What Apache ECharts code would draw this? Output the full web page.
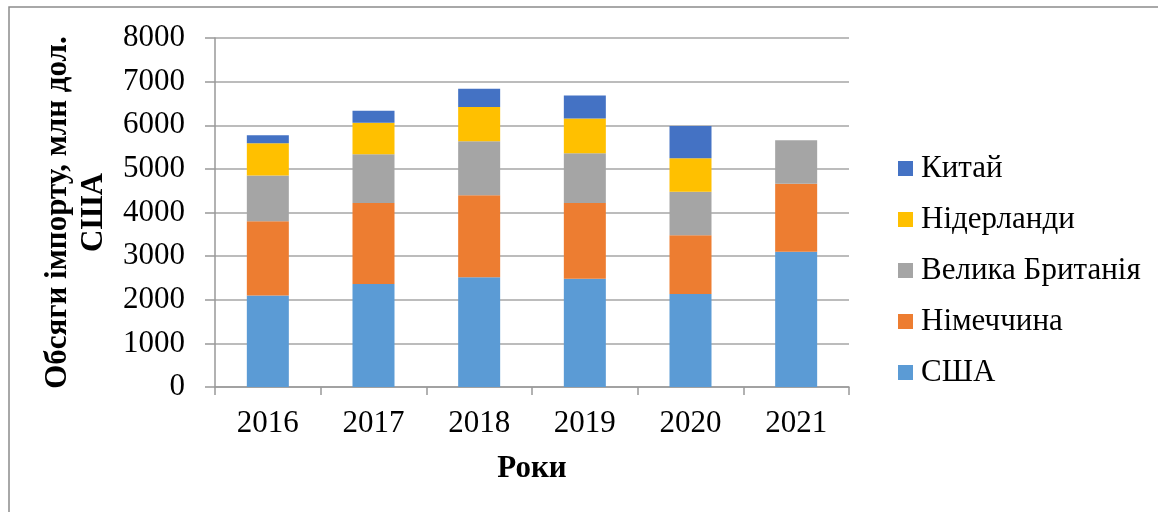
<!DOCTYPE html>
<html>
<head>
<meta charset="utf-8">
<script src="https://cdn.jsdelivr.net/npm/echarts@6/dist/echarts.min.js"></script>
<style>
  html, body { margin: 0; padding: 0; background: #fff; }
  #chart { width: 1158px; height: 512px; }
</style>
</head>
<body>
<div id="chart"></div>
<script>
// роки та обсяги імпорту по країнах (млн дол. США)
const years = ['2016', '2017', '2018', '2019', '2020', '2021'];
const usa = [2100, 2360, 2515, 2480, 2130, 3100];
const germany = [1700, 1860, 1880, 1735, 1350, 1560];
const britain = [1050, 1115, 1240, 1145, 995, 995];
const netherlands = [740, 725, 785, 795, 770, 0];
const china = [180, 275, 415, 525, 740, 0];
const yTicks = { min: 0, max: 8000, interval: 1000 };

const serif = '"Liberation Serif", "DejaVu Serif", serif';
const chart = echarts.init(document.getElementById('chart'));

const mkSeries = (name, data, color) => ({
  name: name,
  type: 'bar',
  stack: 'total',
  barWidth: 42,
  data: data,
  itemStyle: { color: color },
  emphasis: { disabled: true }
});

const option = {
  animation: false,
  backgroundColor: '#fff',
  textStyle: { fontFamily: serif },
  graphic: [
    {
      type: 'rect',
      shape: { x: 9, y: 7, width: 1300, height: 700 },
      style: { fill: 'none', stroke: '#8c8c8c', lineWidth: 1.5 },
      silent: true
    }
  ],
  grid: { left: 215, right: 309, top: 38, bottom: 125 },
  legend: {
    orient: 'vertical',
    left: 893,
    top: 148,
    itemWidth: 15,
    itemHeight: 15,
    itemGap: 20,
    icon: 'rect',
    data: ['Китай', 'Нідерланди', 'Велика Британія', 'Німеччина', 'США'],
    textStyle: { fontFamily: serif, fontSize: 31, color: '#000', padding: [0, 0, 0, 3] }
  },
  xAxis: {
    type: 'category',
    data: years,
    name: 'Роки',
    nameLocation: 'middle',
    nameGap: 66,
    nameTextStyle: { fontFamily: serif, fontSize: 31, fontWeight: 'bold', color: '#000' },
    axisLine: { lineStyle: { color: '#999', width: 1.5 } },
    axisTick: { show: true, length: 8, lineStyle: { color: '#999', width: 1.5 } },
    axisLabel: { fontFamily: serif, fontSize: 31, color: '#000', margin: 21 }
  },
  yAxis: {
    type: 'value',
    min: yTicks.min,
    max: yTicks.max,
    interval: yTicks.interval,
    name: 'Обсяги імпорту, млн дол.\nСША',
    nameLocation: 'middle',
    nameRotate: 90,
    nameGap: 92,
    nameTextStyle: { fontFamily: serif, fontSize: 31, fontWeight: 'bold', color: '#000', lineHeight: 36 },
    axisLine: { show: true, lineStyle: { color: '#999', width: 1.5 } },
    axisTick: { show: true, length: 10, lineStyle: { color: '#999', width: 1.5 } },
    axisLabel: { fontFamily: serif, fontSize: 31, color: '#000', margin: 30, formatter: v => String(v) },
    splitLine: { lineStyle: { color: '#a6a6a6', width: 1.5 } }
  },
  series: [
    mkSeries('США', usa, '#5B9BD5'),
    mkSeries('Німеччина', germany, '#ED7D31'),
    mkSeries('Велика Британія', britain, '#A5A5A5'),
    mkSeries('Нідерланди', netherlands, '#FFC000'),
    mkSeries('Китай', china, '#4472C4')
  ]
};

chart.setOption(option);
</script>
</body>
</html>
